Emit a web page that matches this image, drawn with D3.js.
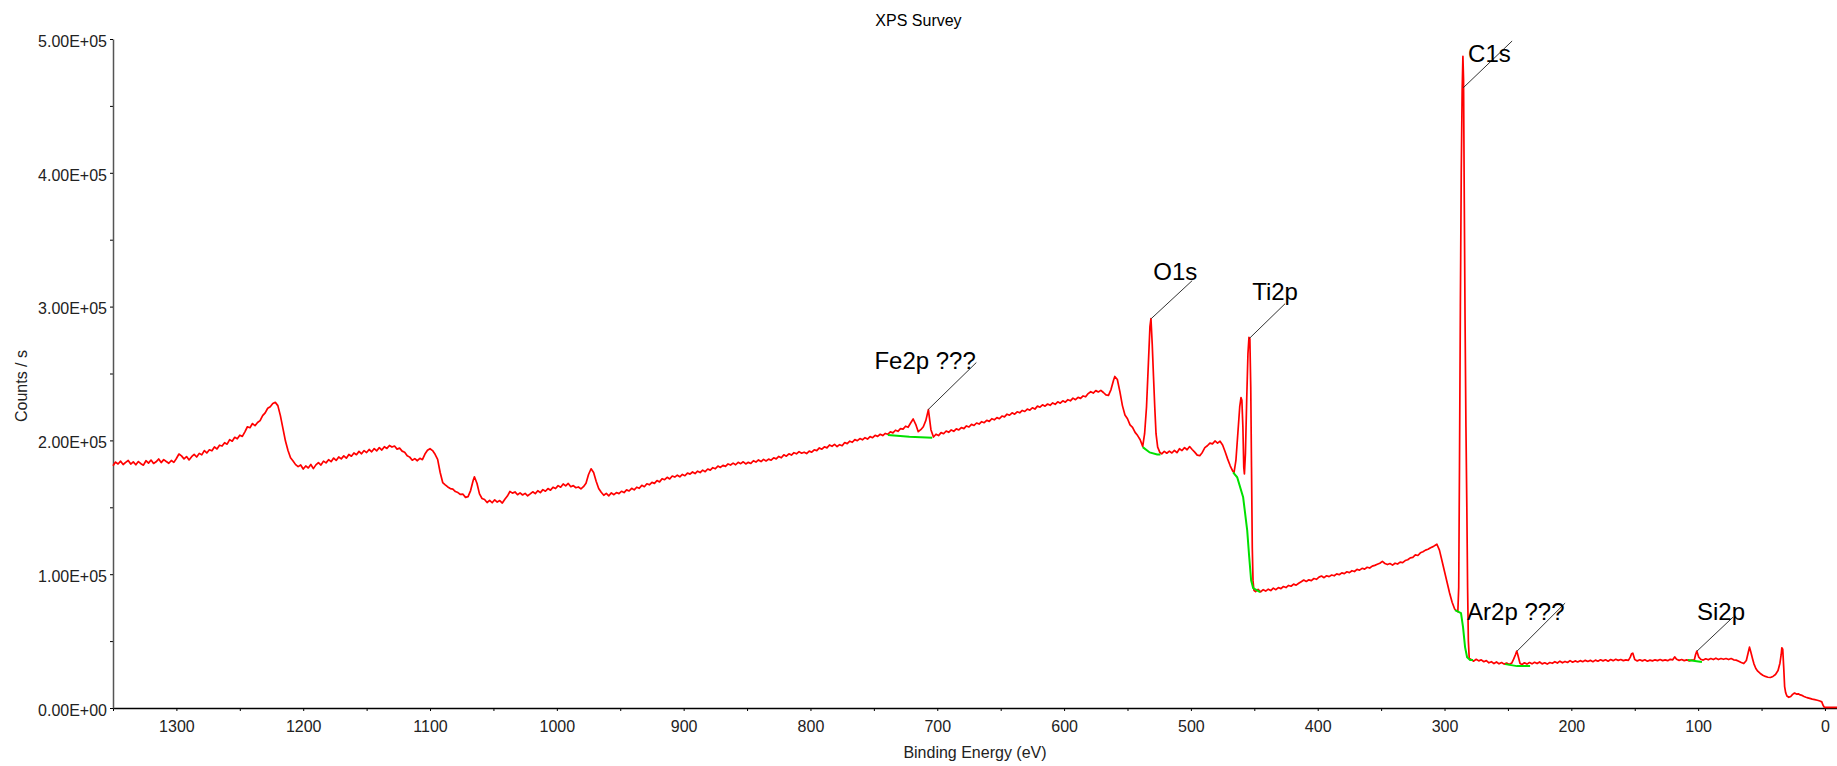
<!DOCTYPE html>
<html>
<head>
<meta charset="utf-8">
<script src="https://cdn.jsdelivr.net/npm/d3@7"></script>
<style>
  body { margin: 0; background: #fff; }
  text { font-family: "Liberation Sans", Arial, sans-serif; }
</style>
</head>
<body>
<div id="div_xps"></div>
<script>
// survey spectrum: [binding energy (eV), counts in thousands]
var spectrum = [
  [1350,181.0],[1348,183.8],[1346,182.4],[1344,184.5],[1342,182.0],[1340,183.6],[1338,185.0],[1336,182.3],
  [1334,183.9],[1332,181.8],[1330,184.2],[1328,182.6],[1326,181.5],[1324,184.8],[1322,183.0],[1320,185.3],
  [1318,182.8],[1316,184.0],[1314,186.1],[1312,183.4],[1310,185.6],[1308,184.2],[1306,182.9],[1304,185.0],
  [1302,183.6],[1300,186.5],[1298,189.8],[1296,188.4],[1294,186.2],[1292,187.9],[1290,185.4],[1288,187.8],
  [1286,189.5],[1284,187.6],[1282,190.3],[1280,189.2],[1278,192.4],[1276,190.6],[1274,193.0],[1272,192.2],
  [1270,195.1],[1268,193.6],[1266,196.4],[1264,195.8],[1262,198.3],[1260,197.2],[1258,200.6],[1256,199.4],
  [1254,202.3],[1252,201.2],[1250,203.9],[1248,203.0],[1246,206.4],[1244,210.2],[1242,209.5],[1240,212.6],
  [1238,211.0],[1236,213.4],[1234,214.8],[1232,218.5],[1230,220.6],[1228,224.0],[1226,225.2],[1224,227.6],
  [1222,228.4],[1220,226.0],[1218,218.5],[1216,209.0],[1214,199.5],[1212,192.5],[1210,187.0],[1208,184.6],
  [1206,181.9],[1204,180.4],[1202,181.6],[1200,178.6],[1198,180.9],[1196,179.4],[1194,182.0],[1192,178.9],
  [1190,181.7],[1188,183.4],[1186,181.6],[1184,184.5],[1182,183.2],[1180,185.6],[1178,184.1],[1176,186.8],
  [1174,185.0],[1172,187.6],[1170,186.2],[1168,188.4],[1166,186.7],[1164,189.5],[1162,188.2],[1160,190.6],
  [1158,189.3],[1156,191.8],[1154,190.0],[1152,192.4],[1150,190.9],[1148,193.2],[1146,191.5],[1144,193.9],
  [1142,192.2],[1140,194.6],[1138,192.8],[1136,195.3],[1134,194.0],[1132,196.2],[1130,195.0],[1128,195.8],
  [1126,193.5],[1124,194.2],[1122,192.0],[1120,191.2],[1118,188.6],[1116,187.5],[1114,185.2],[1112,186.4],
  [1110,184.8],[1108,186.6],[1106,185.6],[1104,189.8],[1102,192.6],[1100,193.8],[1098,192.4],[1096,189.6],
  [1094,185.8],[1092,176.0],[1090,168.5],[1088,166.8],[1086,165.2],[1084,164.0],[1082,163.6],[1080,161.8],
  [1078,161.0],[1076,159.6],[1074,159.8],[1072,157.4],[1070,158.0],[1068,162.5],[1066,170.0],[1065,172.8],
  [1063,168.0],[1061,160.0],[1059,156.6],[1057,155.8],[1055,153.6],[1053,155.2],[1051,153.4],[1049,155.6],
  [1047,153.9],[1045,155.0],[1043,153.2],[1041,156.0],[1039,158.4],[1037,161.8],[1035,160.6],[1033,161.5],
  [1031,159.4],[1029,160.8],[1027,159.2],[1025,160.4],[1023,158.6],[1021,160.0],[1019,161.6],[1017,160.2],
  [1015,162.4],[1013,161.0],[1011,163.2],[1009,162.0],[1007,164.0],[1005,162.8],[1003,165.0],[1001,164.0],
  [999,166.2],[997,165.0],[995,167.4],[993,166.0],[991,167.8],[989,165.4],[987,166.2],[985,164.6],
  [983,165.2],[981,163.8],[979,165.4],[977,168.0],[975,174.5],[973,178.8],[971,176.0],[969,169.5],
  [967,164.0],[965,161.2],[963,159.0],[961,160.4],[959,158.6],[957,160.8],[955,159.4],[953,161.0],
  [951,160.2],[949,162.0],[947,161.0],[945,163.0],[943,162.2],[941,164.2],[939,163.0],[937,165.0],
  [935,164.2],[933,166.4],[931,165.4],[929,167.6],[927,166.8],[925,168.6],[923,167.9],[921,170.0],
  [919,169.0],[917,171.4],[915,170.6],[913,172.4],[911,171.2],[909,173.4],[907,172.6],[905,174.0],
  [903,172.8],[901,174.6],[899,173.6],[897,175.6],[895,174.8],[893,176.4],[891,175.2],[889,177.0],
  [887,176.0],[885,177.8],[883,176.6],[881,178.6],[879,177.8],[877,179.6],[875,178.8],[873,180.8],
  [871,179.8],[869,181.4],[867,180.6],[865,182.4],[863,181.6],[861,183.0],[859,181.8],[857,183.6],
  [855,182.6],[853,184.0],[851,182.4],[849,183.6],[847,182.8],[845,184.8],[843,183.8],[841,185.4],
  [839,184.2],[837,185.8],[835,184.6],[833,186.0],[831,185.2],[829,187.0],[827,186.2],[825,188.0],
  [823,187.0],[821,189.2],[819,188.2],[817,190.0],[815,189.0],[813,190.8],[811,190.0],[809,191.6],
  [807,190.4],[805,191.2],[803,190.2],[801,192.0],[799,191.2],[797,193.0],[795,192.4],[793,194.4],
  [791,193.4],[789,195.2],[787,194.4],[785,196.6],[783,195.6],[781,197.0],[779,195.4],[777,196.8],
  [775,196.0],[773,198.4],[771,197.6],[769,199.4],[767,198.6],[765,200.6],[763,199.8],[761,201.4],
  [759,200.4],[757,202.0],[755,201.0],[753,202.8],[751,202.0],[749,203.8],[747,203.0],[745,204.6],
  [743,203.6],[741,205.2],[739,204.6],[737,206.4],[735,205.6],[733,207.6],[731,206.8],[729,208.8],
  [727,208.4],[725,210.6],[723,209.8],[721,213.0],[719,216.0],[717,212.0],[715,206.5],[713,208.0],
  [711,210.2],[709,215.0],[707,223.0],[705,208.0],[703,202.5],[701,204.6],[699,203.6],[697,205.8],
  [695,205.0],[693,207.0],[691,206.0],[689,207.8],[687,206.8],[685,208.6],[683,207.8],[681,209.6],
  [679,208.8],[677,210.8],[675,210.0],[673,212.0],[671,211.2],[669,213.0],[667,212.2],[665,214.0],
  [663,213.2],[661,215.0],[659,214.2],[657,216.2],[655,215.4],[653,217.0],[651,216.2],[649,218.2],
  [647,217.6],[645,219.6],[643,218.8],[641,220.6],[639,219.6],[637,221.4],[635,220.6],[633,222.4],
  [631,221.6],[629,223.4],[627,222.6],[625,224.4],[623,223.4],[621,225.6],[619,224.8],[617,226.6],
  [615,225.6],[613,227.2],[611,226.2],[609,228.0],[607,227.0],[605,228.8],[603,227.8],[601,229.6],
  [599,228.6],[597,230.4],[595,229.6],[593,231.6],[591,230.4],[589,232.2],[587,231.4],[585,233.2],
  [583,232.6],[581,235.0],[579,236.4],[577,235.4],[575,237.2],[573,236.2],[571,237.4],[569,235.8],
  [567,234.0],[565,233.6],[563,238.0],[561,245.0],[560,247.8],[558,245.5],[556,236.5],[554,226.0],
  [552,219.0],[550,216.2],[548,211.6],[546,209.8],[544,206.0],[542,203.6],[540,200.5],[538,195.5],
  [536.5,205.0],[535,225.0],[533.5,258.0],[532.3,285.0],[531.5,291.0],[530.5,272.0],[529.5,248.0],
  [528.5,225.0],[527.5,205.0],[526.2,195.0],[524.5,191.0],[523,190.0],[521,191.8],[519,190.4],[517,192.0],
  [515,190.6],[513,192.6],[511,190.8],[509,193.8],[507,192.4],[505,194.6],[503,193.0],[501,195.4],
  [499,193.2],[497,191.2],[495,189.0],[493,188.6],[491,191.0],[489,194.6],[487,196.0],[485,198.0],
  [483,197.4],[481,199.6],[479,198.0],[477,199.4],[475,196.6],[473,191.5],[471,186.0],[469,181.0],
  [467,177.0],[466,176.0],[464.5,185.0],[463,205.0],[461.5,225.0],[460.5,232.0],[459.8,230.0],[459,210.0],
  [458.3,180.0],[457.8,175.0],[457,190.0],[456,230.0],[455,265.0],[454.2,277.0],[453.5,276.0],[452.8,240.0],
  [452.2,180.0],[451.6,120.0],[451,95.0],[450.3,88.0],[449,87.0],[447,88.6],[445,86.8],[443,88.4],
  [441,87.4],[439,88.8],[437,87.8],[435,89.6],[433,88.4],[431,90.0],[429,89.2],[427,90.8],[425,90.0],
  [423,91.6],[421,91.0],[419,92.6],[417,91.8],[415,93.2],[413,94.4],[411,95.6],[409,94.6],[407,95.8],
  [405,95.2],[403,96.8],[401,96.2],[399,97.8],[397,98.6],[395,97.4],[393,98.8],[391,98.2],[389,99.4],
  [387,98.8],[385,100.2],[383,99.6],[381,101.0],[379,100.4],[377,101.8],[375,101.2],[373,102.6],
  [371,102.0],[369,103.6],[367,103.0],[365,104.4],[363,103.8],[361,105.2],[359,104.6],[357,106.0],
  [355,106.6],[353,107.4],[351,108.2],[349,109.6],[347,108.0],[345,107.2],[343,108.0],[341,106.8],
  [339,108.2],[337,107.6],[335,109.0],[333,108.6],[331,110.2],[329,110.8],[327,112.2],[325,112.6],
  [323,114.4],[321,114.0],[319,116.0],[317,116.8],[315,118.0],[313,118.6],[311,119.8],[309,120.6],
  [307,121.8],[306,122.4],[304,118.0],[302,110.0],[300,102.0],[298,94.0],[296,86.0],[294,79.0],
  [292,74.0],[291,73.0],[289.5,72.0],[288.8,90.0],[288.2,180.0],[287.5,300.0],[286.8,400.0],[286.1,461.0],
  [285.5,487.0],[285.0,470.0],[284.4,377.0],[283.8,290.0],[283.1,210.0],[282.4,150.0],[281.8,90.0],
  [281.2,50.0],[280.5,37.0],[279,36.2],[277,35.0],[275,36.4],[273,35.2],[271,36.0],[269,34.6],[267,35.4],
  [265,33.8],[263,34.6],[261,33.2],[259,34.4],[257,33.0],[255,34.0],[253,32.8],[251,33.6],[249,32.6],
  [247,33.6],[245.5,36.5],[244,40.0],[243,42.5],[242,39.0],[240.5,33.4],[239,32.4],[237,33.8],[235,32.8],
  [233,34.0],[231,33.0],[229,34.2],[227,33.2],[225,34.4],[223,33.0],[221,33.8],[219,32.8],[217,34.0],
  [215,33.4],[213,34.6],[211,33.6],[209,35.0],[207,33.8],[205,34.8],[203,34.0],[201,35.4],[199,34.2],
  [197,35.2],[195,34.4],[193,35.4],[191,34.6],[189,35.6],[187,34.8],[185,35.6],[183,34.6],[181,35.8],
  [179,35.0],[177,36.0],[175,35.2],[173,36.0],[171,35.0],[169,36.2],[167,35.4],[165,36.4],[163,35.6],
  [161,36.2],[159,35.4],[157,36.0],[155,35.6],[153.5,38.0],[152.5,40.5],[151.5,41.0],[150,36.2],
  [148,35.2],[146,36.0],[144,35.2],[142,36.0],[140,35.0],[138,35.8],[136,35.2],[134,36.0],[132,35.4],
  [130,36.2],[128,35.4],[126,36.0],[124,35.4],[122,36.4],[120,36.0],[118.5,38.2],[117,36.4],[115,35.6],
  [113,36.2],[111,35.4],[109,36.0],[107,35.2],[105,35.8],[103,36.0],[102,40.0],[101,42.5],[99.5,38.0],
  [98,36.4],[96,35.8],[94,36.8],[92,36.0],[90,37.0],[88,36.2],[86,37.2],[84,36.2],[82,37.0],[80,36.4],
  [78,37.0],[76,36.2],[74,37.0],[72,36.0],[70,35.8],[68,35.0],[66,34.0],[64,33.2],[62,35.5],[60.5,41.5],
  [59.5,45.5],[58.5,42.0],[57,36.5],[56,33.0],[54.5,29.5],[53,27.5],[51,25.8],[49,24.5],[47,23.6],
  [45,23.0],[43,22.8],[41,23.6],[39,25.0],[37,28.0],[35.5,33.5],[34.5,40.0],[34,45.0],[33.3,44.0],
  [32.5,30.0],[31.8,16.0],[31,11.5],[30,9.0],[28.5,8.0],[27,8.6],[25.5,10.2],[24,11.2],[22.5,10.4],
  [21,10.6],[19.5,9.8],[18,9.4],[16.5,8.6],[15,8.0],[13.5,7.6],[12,7.2],[10,6.6],[8,6.2],[6,5.8],
  [4,5.2],[2.5,4.6],[1.5,2.0],[0.5,0.6],[0,0.5],[-4,0.5],[-9.5,0.5]
];

// fitted backgrounds under the labelled peaks (eV, counts in thousands)
var bgFe2p = [[739,204.0],[722,202.8],[704,202.0]];
var bgO1s = [[538,195.0],[532.5,191.0],[526.6,189.5],[524,189.5]];
var bgTi2p = [[466.7,176.1],[463.5,172.4],[458.8,157.5],[455.6,132.8],[454.0,112.7],[452.5,95.5],[450.9,89.6],[445.4,86.6]];
var bgC1s = [[291.7,73.1],[287.0,70.9],[285.4,60.4],[283.8,45.5],[282.2,38.0],[279.8,35.8],[277.5,35.8]];
var bgAr2p = [[252.2,32.8],[242.8,31.3],[232.5,31.3]];
var bgSi2p = [[108,35.8],[97,34.3]];

// peak labels
var peakNames = ["Fe2p ???", "O1s", "Ti2p", "C1s", "Ar2p ???", "Si2p"];
var peakEnergies = [707.1, 531.3, 454.0, 285.4, 242.8, 100.9];
var peakCounts = [223.1, 291.0, 276.1, 463.4, 42.5, 42.5];
var leaderEnergies = [669.2, 499.0, 425.7, 246.7, 204.9, 72.5];
var leaderCounts = [258.2, 319.4, 302.2, 498.5, 78.4, 67.9];
var labelEnergies = [749.6, 529.7, 451.7, 281.4, 282.2, 100.9];
var labelCounts = [253.0, 320.1, 305.2, 482.8, 65.7, 65.7];

var xTicks = [1300, 1200, 1100, 1000, 900, 800, 700, 600, 500, 400, 300, 200, 100, 0];
var xMinorTicks = [1350, 1250, 1150, 1050, 950, 850, 750, 650, 550, 450, 350, 250, 150, 50];
var yTicks = [0, 100000, 200000, 300000, 400000, 500000];
var yMinorTicks = [50000, 150000, 250000, 350000, 450000];

var width_chart = 1837;
var height_chart = 766;
var left = 113, right = 1837, top_y = 39, bottom = 708;

var svg = d3.select('#div_xps').append("svg")
    .attr("width", width_chart)
    .attr("height", height_chart)
    .style("display", "block");

svg.append("rect")
    .attr("width", width_chart)
    .attr("height", height_chart)
    .attr("fill", "#fff");

var x = d3.scaleLinear().domain([1350, -9.5]).range([left, right]),
    y = d3.scaleLinear().domain([0, 500000]).range([bottom, top_y]);

function sciFormat(d) {
    var parts = d.toExponential(2).split("e");
    var e = parts[1];
    return parts[0] + "E" + e[0] + e.slice(1).padStart(2, "0");
}

// axes
svg.append("g")
    .attr("transform", "translate(0," + bottom + ")")
    .call(d3.axisBottom(x).tickValues(xMinorTicks).tickSize(3).tickFormat(""))
    .call(function (g) { g.select(".domain").remove(); });

var xAxis = svg.append("g")
    .attr("transform", "translate(0," + bottom + ")")
    .call(d3.axisBottom(x).tickValues(xTicks).tickSize(3).tickSizeOuter(0).tickPadding(10).tickFormat(d3.format("d")));
xAxis.select(".domain").attr("stroke", "#000").attr("stroke-width", 1.5);
xAxis.selectAll("text").style("font-size", "16px").attr("fill", "#222");

svg.append("g")
    .attr("transform", "translate(" + left + ",0)")
    .call(d3.axisLeft(y).tickValues(yMinorTicks).tickSize(3).tickFormat(""))
    .call(function (g) { g.select(".domain").remove(); });

var yAxis = svg.append("g")
    .attr("transform", "translate(" + left + ",0)")
    .call(d3.axisLeft(y).tickValues(yTicks).tickSize(3).tickSizeOuter(0).tickPadding(3).tickFormat(sciFormat));
yAxis.select(".domain").attr("stroke", "#555").attr("stroke-width", 1.5);
yAxis.selectAll("text").style("font-size", "16px").attr("fill", "#222").attr("dy", "0.45em");

// titles
svg.append("text")
    .attr("x", width_chart / 2)
    .attr("y", 26)
    .attr("text-anchor", "middle")
    .style("font-size", "16px")
    .text("XPS Survey");

svg.append("text")
    .attr("x", (left + x(0)) / 2 + 6)
    .attr("y", 758)
    .attr("text-anchor", "middle")
    .style("font-size", "16px")
    .attr("fill", "#222")
    .text("Binding Energy (eV)");

svg.append("text")
    .attr("transform", "translate(27,386) rotate(-90)")
    .attr("text-anchor", "middle")
    .style("font-size", "16px")
    .attr("fill", "#222")
    .text("Counts / s");

// spectrum
var line = d3.line()
    .x(function (d) { return x(d[0]); })
    .y(function (d) { return y(d[1] * 1000); });

svg.append("path")
    .attr("d", line(spectrum))
    .attr("fill", "none")
    .attr("stroke", "#ff0000")
    .attr("stroke-width", 1.7)
    .attr("stroke-linejoin", "round");

[bgFe2p, bgO1s, bgTi2p, bgC1s, bgAr2p, bgSi2p].forEach(function (bg) {
    svg.append("path")
        .attr("d", line(bg))
        .attr("fill", "none")
        .attr("stroke", "#00e000")
        .attr("stroke-width", 2);
});

// peak labels with leader lines
peakNames.forEach(function (name, i) {
    svg.append("line")
        .attr("x1", x(peakEnergies[i]))
        .attr("y1", y(peakCounts[i] * 1000))
        .attr("x2", x(leaderEnergies[i]))
        .attr("y2", y(leaderCounts[i] * 1000))
        .attr("stroke", "#333")
        .attr("stroke-width", 1);
    svg.append("text")
        .attr("x", x(labelEnergies[i]))
        .attr("y", y(labelCounts[i] * 1000))
        .style("font-size", "24px")
        .attr("fill", "#000")
        .text(name);
});
</script>
</body>
</html>
